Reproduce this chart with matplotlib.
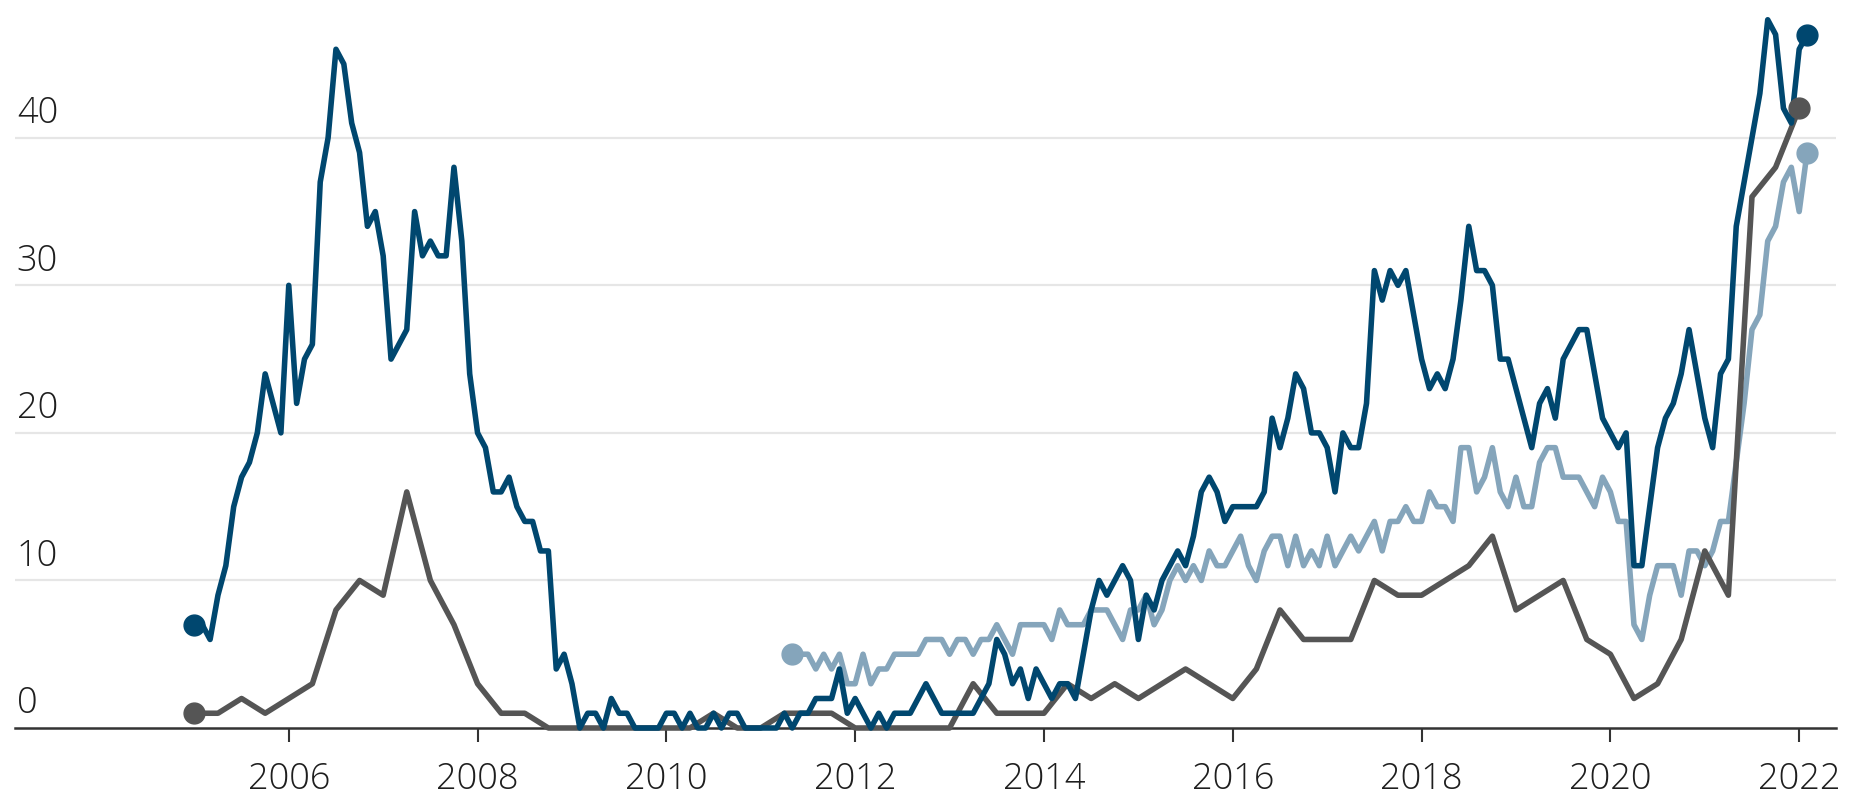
import matplotlib.pyplot as plt
import matplotlib.transforms as mtransforms
import numpy as np

plt.rcParams['font.family'] = ['Open Sans', 'DejaVu Sans']

# monthly, Jan 2005 - Feb 2022
dark = [7, 7, 6, 9, 11, 15, 17, 18, 20, 24, 22, 20,
        30, 22, 25, 26, 37, 40, 46, 45, 41, 39, 34, 35,
        32, 25, 26, 27, 35, 32, 33, 32, 32, 38, 33, 24,
        20, 19, 16, 16, 17, 15, 14, 14, 12, 12, 4, 5,
        3, 0, 1, 1, 0, 2, 1, 1, 0, 0, 0, 0,
        1, 1, 0, 1, 0, 0, 1, 0, 1, 1, 0, 0,
        0, 0, 0, 1, 0, 1, 1, 2, 2, 2, 4, 1,
        2, 1, 0, 1, 0, 1, 1, 1, 2, 3, 2, 1,
        1, 1, 1, 1, 2, 3, 6, 5, 3, 4, 2, 4,
        3, 2, 3, 3, 2, 5, 8, 10, 9, 10, 11, 10,
        6, 9, 8, 10, 11, 12, 11, 13, 16, 17, 16, 14,
        15, 15, 15, 15, 16, 21, 19, 21, 24, 23, 20, 20,
        19, 16, 20, 19, 19, 22, 31, 29, 31, 30, 31, 28,
        25, 23, 24, 23, 25, 29, 34, 31, 31, 30, 25, 25,
        23, 21, 19, 22, 23, 21, 25, 26, 27, 27, 24, 21,
        20, 19, 20, 11, 11, 15, 19, 21, 22, 24, 27, 24,
        21, 19, 24, 25, 34, 37, 40, 43, 48, 47, 42, 41,
        46, 47]
dark_start = 2005.0

# monthly, May 2011 - Feb 2022
light = [5, 5, 5, 4, 5, 4, 5, 3,
         3, 5, 3, 4, 4, 5, 5, 5, 5, 6, 6, 6,
         5, 6, 6, 5, 6, 6, 7, 6, 5, 7, 7, 7,
         7, 6, 8, 7, 7, 7, 8, 8, 8, 7, 6, 8,
         8, 9, 7, 8, 10, 11, 10, 11, 10, 12, 11, 11,
         12, 13, 11, 10, 12, 13, 13, 11, 13, 11, 12, 11,
         13, 11, 12, 13, 12, 13, 14, 12, 14, 14, 15, 14,
         14, 16, 15, 15, 14, 19, 19, 16, 17, 19, 16, 15,
         17, 15, 15, 18, 19, 19, 17, 17, 17, 16, 15, 17,
         16, 14, 14, 7, 6, 9, 11, 11, 11, 9, 12, 12,
         11, 12, 14, 14, 18, 22, 27, 28, 33, 34, 37, 38,
         35, 39]
light_start = 2011 + 4 / 12

# quarterly, Q1 2005 - Q1 2022
grey = [1, 1, 2, 1,
        2, 3, 8, 10,
        9, 16, 10, 7,
        3, 1, 1, 0,
        0, 0, 0, 0,
        0, 0, 1, 0,
        0, 1, 1, 1,
        0, 0, 0, 0,
        0, 3, 1, 1,
        1, 3, 2, 3,
        2, 3, 4, 3,
        2, 4, 8, 6,
        6, 6, 10, 9,
        9, 10, 11, 13,
        8, 9, 10, 6,
        5, 2, 3, 6,
        12, 9, 36, 38,
        42]
grey_start = 2005.0

year_ticks = list(range(2006, 2023, 2))
y_grid = [10, 20, 30, 40]
y_labels = [0, 10, 20, 30, 40]

c_dark = '#00476f'
c_light = '#85a5bb'
c_grey = '#555555'
c_text = '#1e1e1e'

W, H = 1850, 802
fig = plt.figure(figsize=(W / 100, H / 100), dpi=100)
ax = fig.add_axes([15 / W, 74 / H, (1836 - 15) / W, (728 - 5) / H])
ax.set_xlim(2003.10, 2022.39)
ax.set_ylim(0, 49)

for g in y_grid:
    ax.axhline(g, color='#e6e6e6', lw=1.6, zorder=1)

xd = dark_start + np.arange(len(dark)) / 12
xl = light_start + np.arange(len(light)) / 12
xg = grey_start + np.arange(len(grey)) / 4

lw = 4.0
ms = 15
ax.plot(xl, light, color=c_light, lw=lw, zorder=3, clip_on=False, solid_joinstyle='round')
ax.plot(xg, grey, color=c_grey, lw=lw, zorder=4, clip_on=False, solid_joinstyle='round')
ax.plot(xd, dark, color=c_dark, lw=lw, zorder=5, clip_on=False, solid_joinstyle='round')

# dots at both ends of every series
for x, y, c in [(xl, light, c_light), (xg, grey, c_grey), (xd, dark, c_dark)]:
    ax.plot([x[0], x[-1]], [y[0], y[-1]], 'o', color=c, ms=ms, zorder=6, clip_on=False)

for s in ['top', 'right', 'left']:
    ax.spines[s].set_visible(False)
ax.spines['bottom'].set_color('#333333')
ax.spines['bottom'].set_linewidth(1.8)
ax.spines['bottom'].set_zorder(2)

ax.set_xticks(year_ticks)
ax.set_xticklabels([str(y) for y in year_ticks], fontweight='light')
ax.tick_params(axis='x', length=10, width=1.5, color='#333333', pad=14,
               labelsize=26, labelcolor=c_text)
ax.set_yticks([])

# y labels sit above their gridlines
trans = mtransforms.blended_transform_factory(ax.transAxes, ax.transData)
for v in y_labels:
    ax.text(0.001, v + 1.0, str(v), transform=trans, ha='left', va='baseline',
            fontsize=26, color=c_text, fontweight='light')

fig.savefig('out.png', dpi=100)
